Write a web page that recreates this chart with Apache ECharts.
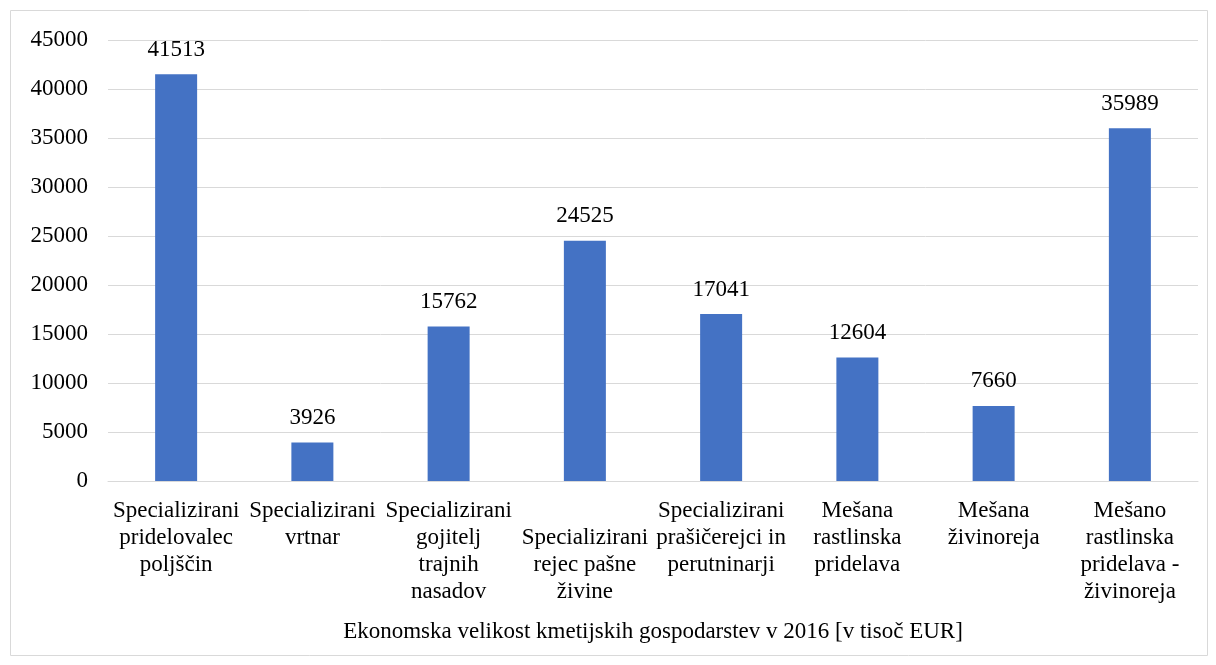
<!DOCTYPE html>
<html><head><meta charset="utf-8">
<script src="https://cdn.jsdelivr.net/npm/echarts@6/dist/echarts.min.js"></script>
<style>html,body{margin:0;padding:0;background:#fff}#c{width:1216px;height:665px}</style>
</head><body><div id="c"></div>
<script>
const categories = [
  "Specializirani\npridelovalec\npoljščin",
  "Specializirani\nvrtnar",
  "Specializirani\ngojitelj\ntrajnih\nnasadov",
  "\nSpecializirani\nrejec pašne\nživine",
  "Specializirani\nprašičerejci in\nperutninarji",
  "Mešana\nrastlinska\npridelava",
  "Mešana\nživinoreja",
  "Mešano\nrastlinska\npridelava -\nživinoreja"
];
const values = [41513, 3926, 15762, 24525, 17041, 12604, 7660, 35989];
const axisTitle = "Ekonomska velikost kmetijskih gospodarstev v 2016 [v tisoč EUR]";
const font = "'Liberation Serif','Times New Roman',serif";
const chart = echarts.init(document.getElementById('c'));
chart.setOption({
  animation: false,
  graphic: [{type:'rect', shape:{x:10.5,y:10.5,width:1197,height:645}, style:{fill:'none',stroke:'#d9d9d9',lineWidth:1}, silent:true}],
  grid: {left:108, right:18, top:40, bottom:184},
  xAxis: {
    type:'category', data: categories,
    axisLine:{lineStyle:{color:'#d9d9d9', width:1}},
    axisTick:{show:false},
    axisLabel:{interval:0, color:'#000', fontFamily:font, fontSize:23, lineHeight:27, margin:16},
    name: axisTitle, nameLocation:'middle', nameGap:139,
    nameTextStyle:{color:'#000', fontFamily:font, fontSize:23}
  },
  yAxis: {
    type:'value', min:0, max:45000, interval:5000,
    axisLine:{show:false}, axisTick:{show:false},
    splitLine:{lineStyle:{color:'#d9d9d9', width:1}},
    axisLabel:{color:'#000', fontFamily:font, fontSize:23, margin:20, formatter: v => String(v)}
  },
  series: [{
    type:'bar', data: values, barWidth:42,
    itemStyle:{color:'#4472C4'},
    label:{show:true, position:'top', distance:13, color:'#000', fontFamily:font, fontSize:23}
  }]
});
</script></body></html>
